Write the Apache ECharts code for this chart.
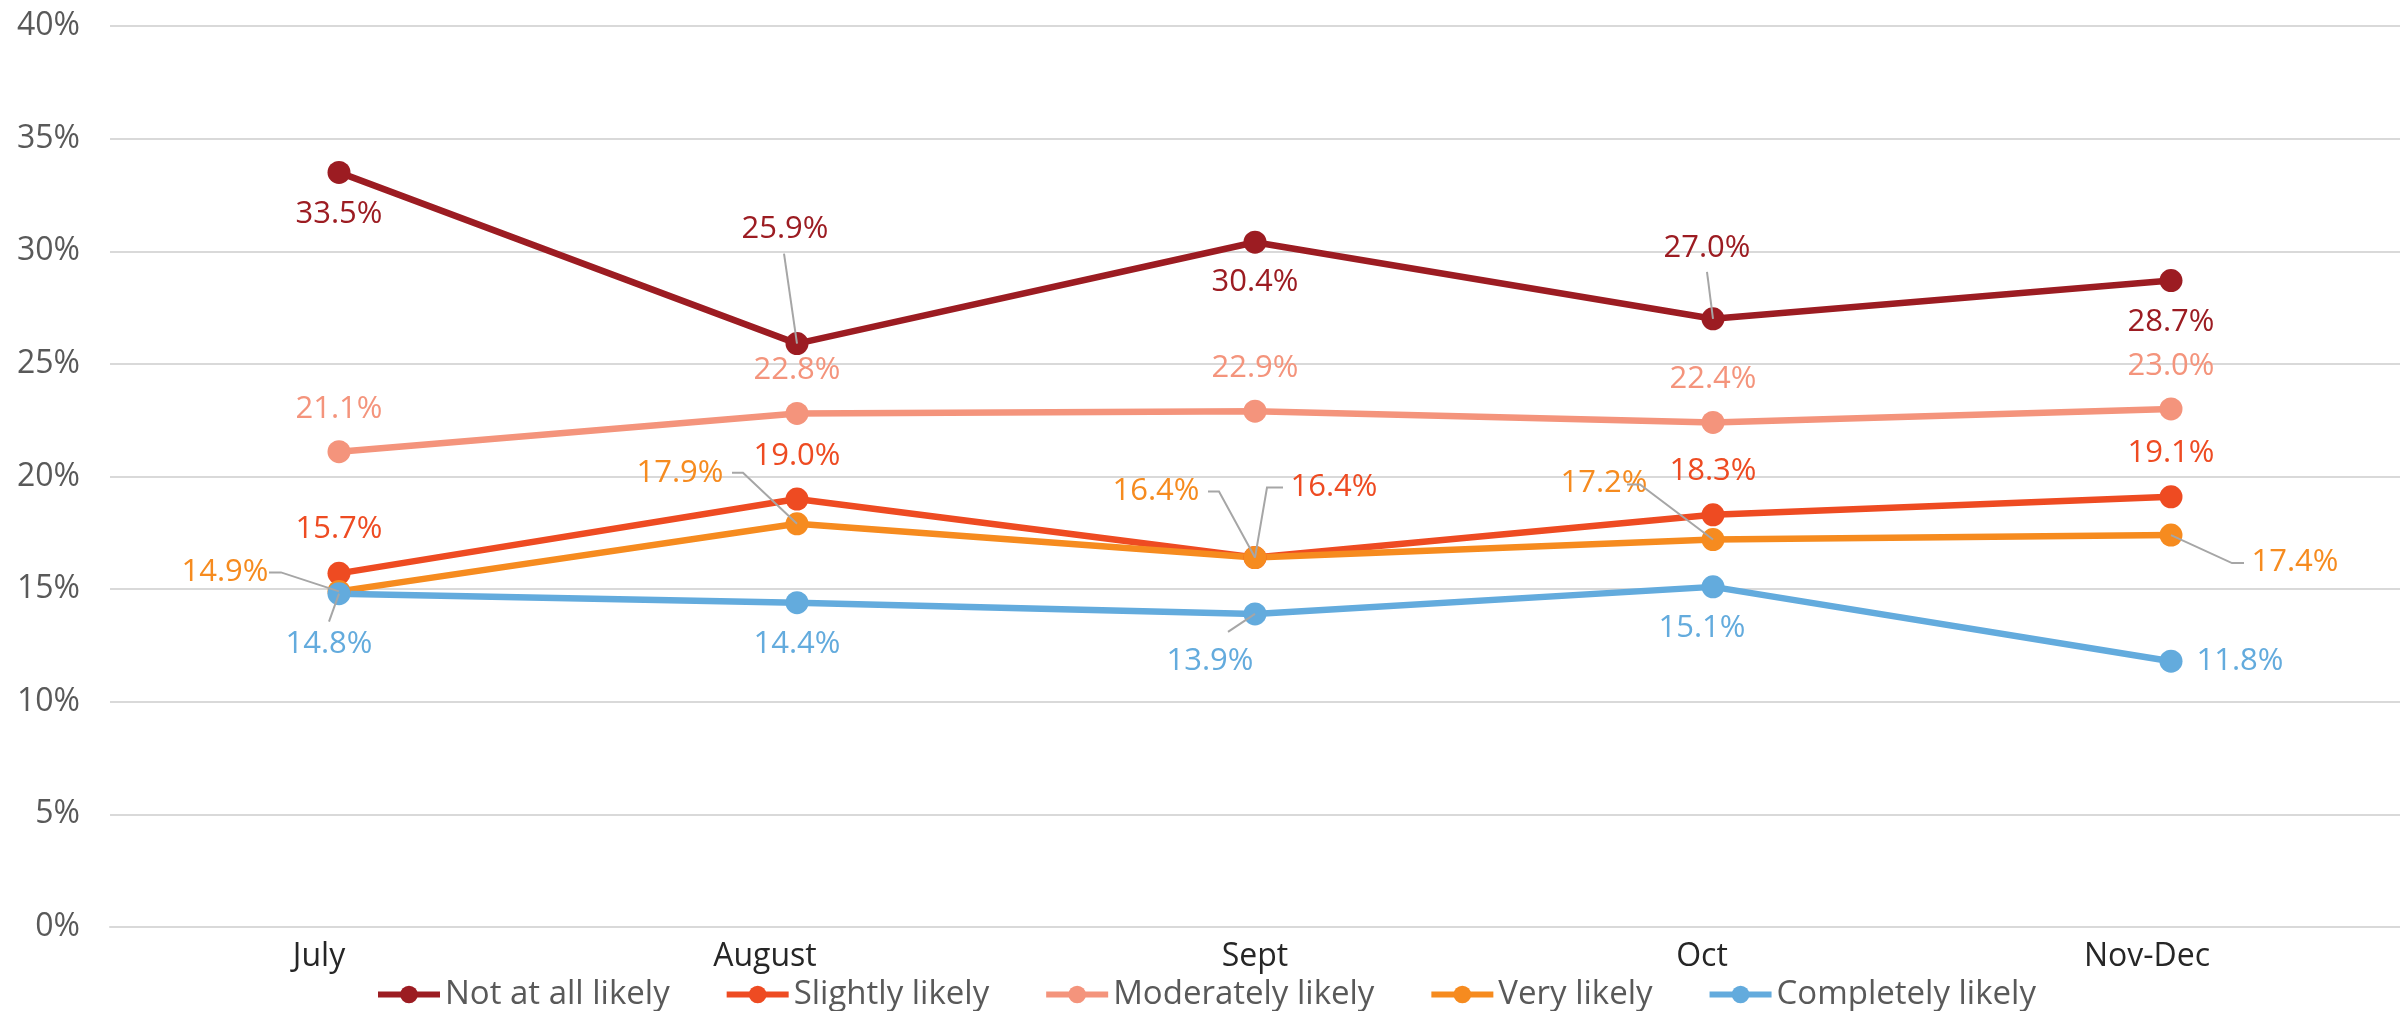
<!DOCTYPE html>
<html>
<head>
<meta charset="utf-8">
<script src="https://cdn.jsdelivr.net/npm/echarts@6/dist/echarts.min.js"></script>
<style>
  html, body { margin: 0; padding: 0; background: #fff; }
  #likelyTrend { width: 2400px; height: 1011px; }
</style>
</head>
<body>
<div id="likelyTrend"></div>
<script>
// categories and series values
const months = ['July', 'August', 'Sept', 'Oct', 'Nov-Dec']
const notAtAllLikely = [33.5, 25.9, 30.4, 27.0, 28.7]
const slightlyLikely = [15.7, 19.0, 16.4, 18.3, 19.1]
const moderatelyLikely = [21.1, 22.8, 22.9, 22.4, 23.0]
const veryLikely = [14.9, 17.9, 16.4, 17.2, 17.4]
const completelyLikely = [14.8, 14.4, 13.9, 15.1, 11.8]

// label placement in px, [dx, dy] from the point
const labelSpots = {
  notAtAll: [[0, 42], [-12, -114], [0, 40], [-6, -71], [0, 42]],
  slightly: [[0, -44], [0, -43], [79, -70], [0, -44], [0, -44]],
  moderately: [[0, -43], [0, -43], [0, -43], [0, -43], [0, -43]],
  very: [[-114, -19], [-117, -51], [-99, -66], [-109, -56], [124, 27]],
  completely: [[-10, 51], [0, 42], [-45, 47], [-11, 41], [69, 0]]
}

// leader lines (px from the point) for the labels that were pushed away
const leaderPaths = {
  notAtAll: { 1: [[-13, -90]], 3: [[-6, -47]] },
  slightly: { 2: [[12, -70], [28, -70]] },
  moderately: {},
  very: {
    0: [[-58, -19], [-70, -19]],
    1: [[-54, -51], [-65, -51]],
    2: [[-36, -66], [-47, -66]],
    3: [[-73, -55], [-86, -55]],
    4: [[61, 28], [73, 28]]
  },
  completely: { 0: [[-10, 28]], 2: [[-27, 18]] }
}

// month labels sit a little left of their points in the original
const monthShift = [20, 32, 0, 11, 24]

const FONT = 'Open Sans'
const names = ['Not at all likely', 'Slightly likely', 'Moderately likely', 'Very likely', 'Completely likely']

function makeSeries(name, values, color, spots) {
  return {
    name: name,
    type: 'line',
    symbol: 'circle',
    symbolSize: 23,
    color: color,
    lineStyle: { width: 6.5, color: color },
    itemStyle: { color: color },
    label: {
      show: true,
      position: 'inside',
      color: color,
      fontSize: 31,
      fontFamily: FONT,
      formatter: p => p.value.toFixed(1) + '%'
    },
    data: values.map((v, i) => ({
      value: v,
      label: { offset: spots[i] }
    }))
  }
}

// collect the leader lines, each tied to its data point
let leaders = []
let groups = [
  [notAtAllLikely, leaderPaths.notAtAll],
  [slightlyLikely, leaderPaths.slightly],
  [moderatelyLikely, leaderPaths.moderately],
  [veryLikely, leaderPaths.very],
  [completelyLikely, leaderPaths.completely]
]
groups.forEach(([values, paths]) => {
  for (let k in paths) {
    leaders.push({ value: [Number(k), values[k]], path: paths[k] })
  }
})

let monthRich = {}
monthShift.forEach((s, i) => {
  monthRich['m' + i] = {
    color: '#262626',
    fontSize: 32,
    fontFamily: FONT,
    padding: [0, s * 2, 0, 0]
  }
})

let myEchart = echarts.init(document.querySelector('#likelyTrend'))
myEchart.setOption({
  animation: false,
  grid: {
    top: 26,
    left: 110,
    right: 0,
    bottom: 84
  },
  legend: {
    data: names,
    left: 370,
    top: 973,
    itemWidth: 62,
    itemHeight: 22,
    itemGap: 54,
    lineStyle: { width: 6 },
    textStyle: {
      color: '#595959',
      fontSize: 33,
      fontFamily: FONT
    }
  },
  xAxis: {
    type: 'category',
    data: months,
    boundaryGap: true,
    axisLine: { lineStyle: { color: '#D9D9D9', width: 2 } },
    axisTick: { show: false },
    axisLabel: {
      color: '#262626',
      fontSize: 32,
      fontFamily: FONT,
      margin: 14,
      formatter: (v, i) => '{m' + i + '|' + v + '}',
      rich: monthRich
    }
  },
  yAxis: {
    type: 'value',
    min: 0,
    max: 40,
    interval: 5,
    axisLine: { show: false },
    axisTick: { show: false },
    axisLabel: {
      color: '#595959',
      fontSize: 32,
      fontFamily: FONT,
      margin: 30,
      formatter: '{value}%'
    },
    splitLine: { lineStyle: { color: '#D9D9D9', width: 2 } }
  },
  series: [
    makeSeries(names[0], notAtAllLikely, '#9C1C22', labelSpots.notAtAll),
    makeSeries(names[1], slightlyLikely, '#EE4B22', labelSpots.slightly),
    makeSeries(names[2], moderatelyLikely, '#F4947C', labelSpots.moderately),
    makeSeries(names[3], veryLikely, '#F68B1F', labelSpots.very),
    makeSeries(names[4], completelyLikely, '#63ABDD', labelSpots.completely),
    {
      type: 'custom',
      z: 5,
      silent: true,
      data: leaders,
      renderItem: (params, api) => {
        let p = api.coord([api.value(0), api.value(1)])
        let pts = [p].concat(leaders[params.dataIndex].path.map(o => [p[0] + o[0], p[1] + o[1]]))
        return {
          type: 'polyline',
          shape: { points: pts },
          style: { stroke: '#A6A6A6', lineWidth: 2, fill: null }
        }
      }
    }
  ]
})
</script>
</body>
</html>
